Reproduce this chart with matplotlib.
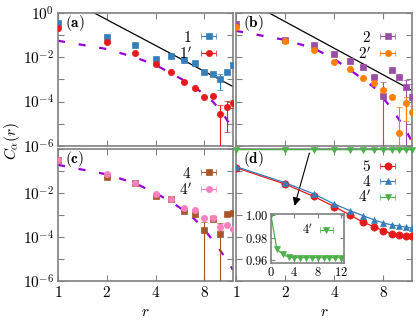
"""Correlation functions C_alpha(r), four panels with inset."""
import matplotlib

matplotlib.use("Agg")
import matplotlib.pyplot as plt
import numpy as np

plt.rcParams["mathtext.fontset"] = "cm"
plt.rcParams["font.family"] = "serif"
plt.rcParams["font.serif"] = ["cmr10", "DejaVu Serif"]
plt.rcParams["axes.unicode_minus"] = False

# ---- data ----
r = np.arange(1, 13)

# (a)
a_c1 = [0.35, 0.082, 0.036, 8.5e-3, 1.17e-2, 7.6e-3, 5.4e-3, 2.25e-3, 1.7e-3, 1.05e-3, 2.1e-3, 4.5e-3]
a_c1_err = [0, 0, 0, 0, 0, 0, 0, 0, 2e-4, 7e-4, 0, 0]
a_c1p = [0.21, 0.049, 0.0154, 4.9e-3, 2.1e-3, 7.7e-4, 4.3e-4, 1.55e-4, 1.8e-4, 2.8e-5, 5.5e-5, 8.3e-5]
a_c1p_err = [0, 0, 0, 0, 0, 0, 0, 0, 0, 4.2e-5, 5.1e-5, 3e-5]
a_fit = [0.057, 0.024, 0.010, 4.5e-3, 1.9e-3, 8.9e-4, 4.5e-4, 2.0e-4, 1.0e-4, 4.2e-5, 1.5e-5, 5e-6]
a_ref_r = [1, 12]
a_ref = [7.7, 4.8e-4]

# (b)
b_c2 = [0.33, 0.062, 0.037, 0.0139, 7.1e-3, 3.8e-3, 1.26e-3, 1.85e-4, 2.7e-3, 1.34e-3, 4.4e-4, 1.55e-4]
b_c2_err = [0, 0, 0, 0, 0, 0, 0, 6e-4, 0, 0, 5.1e-4, 5e-4]
b_c2p = [0.25, 0.055, 0.022, 6.4e-3, 3.0e-3, 1.13e-3, 6.8e-4, 3.3e-4, 1.66e-4, 3.6e-6, 8.3e-5, 3.2e-5]
b_c2p_err = [0, 0, 0, 0, 0, 0, 0, 1e-4, 4e-5, 5.5e-5, 7e-5, 3e-5]
b_fit = [0.16, 0.062, 0.026, 8.5e-3, 2.7e-3, 1.05e-3, 4.5e-4, 1.4e-4, 5e-5, 1.5e-5, 5.1e-6, 1.5e-6]
b_ref_r = [1, 12]
b_ref = [6.75, 3.2e-4]

# (c)
c_c4 = [0.33, 0.053, 0.028, 7.8e-3, 5.3e-3, 1.6e-3, 1.1e-3, 2.1e-4, 6.8e-4, 1.37e-4, 1.1e-3, 1.23e-3]
c_c4_err = [0, 0, 0, 0, 0, 0, 0, 3e-4, 1.5e-4, 3e-4, 0, 0]
c_c4p = [0.34, 0.073, 0.030, 8.9e-3, 5.5e-3, 2.2e-3, 1.7e-3, 7.8e-4, 7.8e-4, 3.0e-4, 3.6e-4, 2.4e-4]
c_c4p_err = [0, 0, 0, 0, 0, 0, 0, 0, 2e-4, 1e-4, 0, 0]
c_fit = [0.195, 0.072, 0.028, 0.010, 4.0e-3, 1.6e-3, 6.3e-4, 2.2e-4, 7.1e-5, 2.5e-5, 8.9e-6, 3.2e-6]

# (d)
d_c5 = [0.146, 0.026, 7.1e-3, 2.45e-3, 1.02e-3, 4.8e-4, 3.0e-4, 1.95e-4, 1.45e-4, 1.26e-4, 1.17e-4, 1.07e-4]
d_c4 = [0.162, 0.030, 9.3e-3, 3.2e-3, 1.6e-3, 9.5e-4, 6.2e-4, 4.4e-4, 3.6e-4, 3.2e-4, 2.8e-4, 2.6e-4]
ins_r = np.arange(0, 13)
ins_c4p = [1.0, 0.9698, 0.9651, 0.9625, 0.9622, 0.9621, 0.9621, 0.9621, 0.9621, 0.9621, 0.9621, 0.9621, 0.9622]

BLUE, RED, GREEN = "#377eb8", "#e41a1c", "#4daf4a"
PURPLE, ORANGE, BROWN, PINK = "#984ea3", "#ff7f00", "#a65628", "#f781bf"
FIT = "#9400d3"
SPINE = "#808080"
FS = 11


def _style(ax, xlabels, ylabels):
    ax.set_xscale("log")
    ax.set_yscale("log")
    ax.set_xlim(1, 12)
    ax.set_ylim(1e-6, 1)
    ax.set_xticks([1, 2, 4, 8])
    ax.xaxis.set_minor_locator(matplotlib.ticker.NullLocator())
    ax.set_yticks([1, 1e-2, 1e-4, 1e-6])
    ax.set_yticks([1e-1, 1e-3, 1e-5], minor=True)
    ax.set_xticklabels(["$1$", "$2$", "$4$", "$8$"] if xlabels else [])
    ax.set_yticklabels(ylabels if ylabels else [])
    ax.yaxis.set_minor_formatter(matplotlib.ticker.NullFormatter())
    for which in ("major", "minor"):
        ax.tick_params(which=which, direction="in", top=True, right=True,
                       length=4, width=0.8, color=SPINE, labelsize=FS, pad=3)
    for s in ax.spines.values():
        s.set_color(SPINE)
        s.set_linewidth(1.2)
    if xlabels:
        ax.set_xlabel("$r$", fontsize=FS, labelpad=3.5)


def _series(ax, y, err, color, marker, ms=4.5, line=False, clip=True):
    ax.errorbar(r, y, yerr=err, fmt=marker, color=color, ms=ms, mew=0.5,
                ecolor=color, elinewidth=0.8, capsize=2, capthick=0.8,
                linestyle="-" if line else "none", lw=0.9, clip_on=clip, zorder=3)


def _legend(ax, entries, anchor=(1.0, 1.0), spacing=0.05, fs=FS):
    handles = []
    for label, color, marker, ms in entries:
        h = ax.errorbar([np.nan], [np.nan], xerr=[np.nan], fmt=marker, color=color,
                        ms=ms, mew=0.5, elinewidth=0.8, capsize=2, capthick=0.8,
                        label=label)
        handles.append(h)
    ax.legend(handles=handles, loc="upper right", bbox_to_anchor=anchor, frameon=False,
              markerfirst=False, fontsize=fs, handlelength=1.4, handletextpad=0.4,
              labelspacing=spacing, borderaxespad=0.5, borderpad=0.4)


def _fit(ax, y):
    ax.plot(r, y, color=FIT, lw=1.6, dashes=(3.2, 6.2), zorder=2)


fig = plt.figure(figsize=(4.16, 3.2), dpi=100)
ax_a = fig.add_axes([58 / 416, 1 - 145.7 / 320, 175 / 416, 132.4 / 320])
ax_b = fig.add_axes([236 / 416, 1 - 145.7 / 320, 176 / 416, 132.4 / 320])
ax_c = fig.add_axes([58 / 416, 1 - 281 / 320, 175 / 416, 131.7 / 320])
ax_d = fig.add_axes([236 / 416, 1 - 281 / 320, 176 / 416, 131.7 / 320])

top_labels = ["$10^{0}$", "$10^{-2}$", "$10^{-4}$", "$10^{-6}$"]
low_labels = ["", "$10^{-2}$", "$10^{-4}$", "$10^{-6}$"]

# (a)
_fit(ax_a, a_fit)
ax_a.plot(a_ref_r, a_ref, color="k", lw=0.9, zorder=2)
_series(ax_a, a_c1, a_c1_err, BLUE, "s", ms=4.2)
_series(ax_a, a_c1p, a_c1p_err, RED, "o", ms=4.5)
_style(ax_a, False, top_labels)
_legend(ax_a, [("$1$", BLUE, "s", 4.2), ("$1'$", RED, "o", 4.5)], anchor=(1.0, 0.98))

# (b)
_fit(ax_b, b_fit)
ax_b.plot(b_ref_r, b_ref, color="k", lw=0.9, zorder=2)
_series(ax_b, b_c2, b_c2_err, PURPLE, "s", ms=4.2)
_series(ax_b, b_c2p, b_c2p_err, ORANGE, "o", ms=4.5)
_style(ax_b, False, None)
_legend(ax_b, [("$2$", PURPLE, "s", 4.2), ("$2'$", ORANGE, "o", 4.5)], anchor=(1.0, 0.98))

# (c)
_fit(ax_c, c_fit)
_series(ax_c, c_c4, c_c4_err, BROWN, "s", ms=4.2)
_series(ax_c, c_c4p, c_c4p_err, PINK, "o", ms=4.5)
_style(ax_c, True, low_labels)
_legend(ax_c, [("$4$", BROWN, "s", 4.2), ("$4'$", PINK, "o", 4.5)], anchor=(1.0, 0.98))

# (d)
_series(ax_d, d_c5, None, RED, "o", ms=5.2, line=True)
_series(ax_d, d_c4, None, BLUE, "^", ms=5, line=True)
_series(ax_d, ins_c4p[1:], None, GREEN, "v", ms=4.5, line=True, clip=False)
_style(ax_d, True, None)
_legend(ax_d, [("$5$", RED, "o", 5.2), ("$4$", BLUE, "^", 5), ("$4'$", GREEN, "v", 4.5)],
        anchor=(1.0, 1.03), spacing=0.0)
ax_d.annotate("", xy=(2.26, 2.0e-3), xytext=(2.85, 0.9),
              arrowprops=dict(arrowstyle="-|>", color="k", lw=0.8, mutation_scale=12))

for ax, lab in zip((ax_a, ax_b, ax_c, ax_d), "abcd"):
    ax.text(0.04, 0.925, r"$\mathbf{(" + lab + ")}$", transform=ax.transAxes,
            fontsize=FS, va="center", ha="left")

# inset
ax_in = fig.add_axes([271 / 416, 1 - 263.3 / 320, 73 / 416, 49 / 320])
ax_in.plot(ins_r, ins_c4p, color=GREEN, marker="v", ms=4.5, lw=0.9, mew=0.5)
ax_in.set_xlim(0, 12.5)
ax_in.set_ylim(0.957, 1.001)
ax_in.set_xticks([0, 4, 8, 12])
ax_in.set_xticklabels(["$0$", "$4$", "$8$", "$12$"])
ax_in.set_yticks([0.96, 0.98, 1.00])
ax_in.set_yticklabels(["$0.96$", "$0.98$", "$1.00$"])
ax_in.tick_params(direction="in", top=True, right=True, length=3, width=0.8,
                  color=SPINE, labelsize=9, pad=2)
for s in ax_in.spines.values():
    s.set_color(SPINE)
    s.set_linewidth(1.2)
h = ax_in.errorbar([np.nan], [np.nan], xerr=[np.nan], fmt="v", color=GREEN, ms=4.5,
                   mew=0.5, elinewidth=0.8, capsize=2, capthick=0.8, label="$4'$")
ax_in.legend(handles=[h], loc="upper right", frameon=False, markerfirst=False, fontsize=9,
             handlelength=1.4, handletextpad=0.4, borderaxespad=0.3, borderpad=0.4)

fig.text(0.028, 0.56, r"$C_\alpha(r)$", rotation=90, ha="center", va="center", fontsize=FS)

fig.savefig("out.png", dpi=100)
plt.close(fig)
